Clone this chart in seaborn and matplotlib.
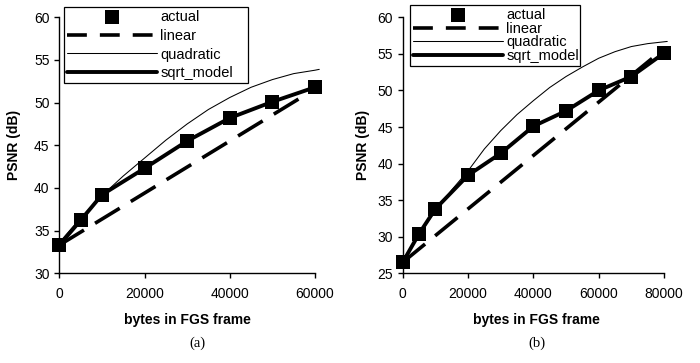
import matplotlib
matplotlib.use("Agg")
import matplotlib.pyplot as plt
import seaborn as sns

# ---------------- panel (a) data ----------------
a_x = [0, 5000, 10000, 20000, 30000, 40000, 50000, 60000]
a_actual = [33.3, 36.2, 39.2, 42.3, 45.5, 48.2, 50.1, 51.8]
a_sqrt = [33.3, 36.2, 39.2, 42.3, 45.5, 48.2, 50.1, 51.8]
a_lin_x = [0, 60000]
a_lin = [33.3, 51.6]
a_quad_x = [0, 5000, 10000, 15000, 20000, 25000, 30000, 35000, 40000,
            45000, 50000, 55000, 60000, 61000]
a_quad = [33.6, 36.5, 39.1, 41.4, 43.5, 45.6, 47.5, 49.2, 50.6,
          51.8, 52.7, 53.4, 53.8, 53.9]
a_xticks = [0, 20000, 40000, 60000]
a_yticks = [30, 35, 40, 45, 50, 55, 60]

# ---------------- panel (b) data ----------------
b_x = [0, 5000, 10000, 20000, 30000, 40000, 50000, 60000, 70000, 80000]
b_actual = [26.5, 30.4, 33.8, 38.4, 41.4, 45.1, 47.2, 50.0, 51.9, 55.1]
b_sqrt = [26.5, 30.4, 33.8, 38.4, 41.4, 45.1, 47.2, 50.0, 51.9, 55.1]
b_lin_x = [0, 80000]
b_lin = [26.5, 55.7]
b_quad_x = [0, 5000, 10000, 15000, 20000, 25000, 30000, 35000, 40000,
            45000, 50000, 55000, 60000, 65000, 70000, 75000, 81000]
b_quad = [26.8, 30.3, 33.5, 36.4, 39.0, 42.0, 44.5, 46.7, 48.6,
          50.4, 51.9, 53.2, 54.4, 55.3, 56.0, 56.4, 56.7]
b_xticks = [0, 20000, 40000, 60000, 80000]
b_yticks = [25, 30, 35, 40, 45, 50, 55, 60]

labels_order = ["actual", "linear", "quadratic", "sqrt_model"]

sns.set_theme(style="ticks")
plt.rcParams['font.family'] = ['Liberation Sans', 'DejaVu Sans']
plt.rcParams['axes.edgecolor'] = 'black'
plt.rcParams['axes.labelcolor'] = 'black'
plt.rcParams['text.color'] = 'black'
plt.rcParams['xtick.color'] = 'black'
plt.rcParams['ytick.color'] = 'black'

W, H = 700, 363
fig = plt.figure(figsize=(7.0, 3.63), dpi=100)
fig.patch.set_facecolor('white')


def panel(rect, x, actual, sqrt_vals, lin_x, lin_y, quad_x, quad_y,
          xticks, yticks, leg_box, leg_spacing, ylab_x, xlab_x, caption, cap_x):
    ax = fig.add_axes(rect)
    ax.set_facecolor('white')
    sns.lineplot(x=lin_x, y=lin_y, ax=ax, color='black', linewidth=2.6,
                 linestyle=(0, (8, 3.6)), label='linear', errorbar=None,
                 sort=False, zorder=2)
    sns.lineplot(x=quad_x, y=quad_y, ax=ax, color='black', linewidth=0.75,
                 label='quadratic', errorbar=None, sort=False, zorder=2)
    sns.lineplot(x=x, y=sqrt_vals, ax=ax, color='black', linewidth=2.8,
                 label='sqrt_model', errorbar=None, sort=False, zorder=3)
    sns.scatterplot(x=x, y=actual, ax=ax, marker='s', s=95, color='black',
                    edgecolor='black', linewidth=0, label='actual', zorder=5)
    for ln in ax.get_lines():
        ln.set_clip_on(False)
    for c in ax.collections:
        c.set_clip_on(False)
    ax.set_xlim(xticks[0], xticks[-1])
    ax.set_ylim(yticks[0], yticks[-1])
    ax.set_xticks(xticks)
    ax.set_yticks(yticks)
    ax.set_xticklabels([str(v) for v in xticks])
    ax.set_yticklabels([str(v) for v in yticks])
    sns.despine(ax=ax)
    for s in ('left', 'bottom'):
        ax.spines[s].set_linewidth(1.0)
        ax.spines[s].set_color('black')
    ax.tick_params(axis='both', direction='out', length=3.5, width=1.0,
                   labelsize=10, colors='black')
    ax.tick_params(axis='y', pad=3.5)
    ax.tick_params(axis='x', pad=6.5)
    ax.set_xlabel('bytes in FGS frame', fontsize=10, fontweight='bold',
                  color='black')
    ax.set_ylabel('PSNR (dB)', fontsize=10, fontweight='bold', color='black')
    ax.xaxis.set_label_coords(xlab_x, -0.155)
    ax.yaxis.set_label_coords(ylab_x, 0.5)

    h, l = ax.get_legend_handles_labels()
    d = dict(zip(l, h))
    x0, y0, x1, y1 = leg_box
    leg = ax.legend([d[k] for k in labels_order], labels_order,
                    loc='upper left',
                    bbox_to_anchor=(x0 / W, 1 - y1 / H, (x1 - x0) / W, (y1 - y0) / H),
                    bbox_transform=fig.transFigure, mode='expand',
                    borderaxespad=0, borderpad=0.2, frameon=True,
                    fancybox=False, framealpha=1, edgecolor='black',
                    facecolor='white', fontsize=10.5, handlelength=6.2,
                    handletextpad=0.2, labelspacing=leg_spacing)
    leg.get_frame().set_linewidth(0.9)
    leg.get_lines()[0].set_dashes((5.5, 3.6))
    fig.text(cap_x / W, 1 - 343 / H, caption, ha='center', va='center',
             fontsize=10.5, family=['Liberation Serif', 'DejaVu Serif'])
    return ax


panel([59.3 / W, 1 - 273.3 / H, 255.7 / W, 256 / H],
      a_x, a_actual, a_sqrt, a_lin_x, a_lin, a_quad_x, a_quad,
      a_xticks, a_yticks, (64, 7, 248, 83), 0.33, -0.150, 0.5, '(a)', 197)
panel([402.7 / W, 1 - 273.3 / H, 261.3 / W, 256 / H],
      b_x, b_actual, b_sqrt, b_lin_x, b_lin, b_quad_x, b_quad,
      b_xticks, b_yticks, (410, 5, 580, 66), -0.02, -0.125, 0.51, '(b)', 537)

fig.savefig('out.png', dpi=100, facecolor='white')
